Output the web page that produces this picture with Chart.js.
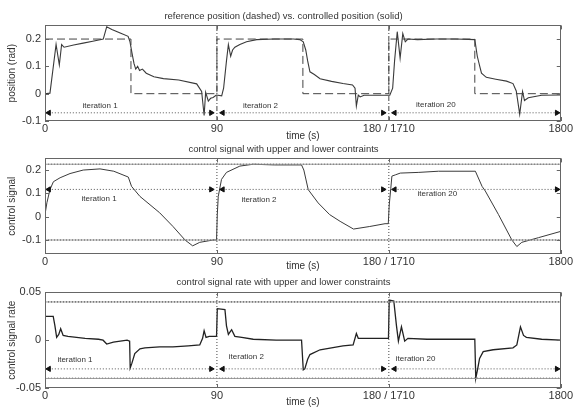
<!DOCTYPE html>
<html>
<head>
<meta charset="utf-8">
<script src="https://cdn.jsdelivr.net/npm/chart.js@4.4.1/dist/chart.umd.min.js"></script>
<style>
  html, body { margin: 0; padding: 0; background: #fff; }
  #wrap { position: relative; width: 574px; height: 408px; }
  #wrap canvas { position: absolute; left: 0; }
</style>
</head>
<body>
<div id="wrap">
  <canvas id="chart-pos" width="574" height="142" style="top:0"></canvas>
  <canvas id="chart-u" width="574" height="132" style="top:140px"></canvas>
  <canvas id="chart-du" width="574" height="136" style="top:272px"></canvas>
</div>
<script>
// time axis: three 90 s windows (iteration 1, 2, 20) laid side by side
const xTicks = [0, 90, 180, 270];
const xTickLabels = ['0', '90', '180 / 1710', '1800'];
const iterBounds = [90, 180];
const iterNames = ['iteration 1', 'iteration 2', 'iteration 20'];
const arrowStart = [2, 93, 183];
const arrowEnd = [87, 177, 268];

// position: reference (dashed, stepped) and controlled (solid)
const refT = [0, 45, 90, 135, 180, 225, 270];
const refY = [0.2, 0, 0.2, 0, 0.2, 0, 0];
const posT = [0, 2.6, 4, 5.8, 7.5, 8.7, 10, 15, 20, 25, 30.5, 32.3, 35, 40, 43.5, 44.5, 45.5, 46.6, 47.5, 48.5, 49.5, 51, 53, 57, 62, 70, 79.4, 82, 83.3, 84.1, 85.5, 86.7, 88, 89.7,
  92.5, 93.5, 95, 96, 97.2, 98.2, 99.4, 102, 105.5, 110.8, 120, 130, 133.4, 135.2, 136.5, 137.5, 138.7, 141, 144, 150, 156, 161, 162.3, 163, 164, 165, 167, 175,
  180.5, 182, 183, 184.4, 185.9, 187.3, 188.6, 190, 195, 205, 215, 225, 226.3, 227.6, 228.5, 231, 236, 241.6, 245, 246.7, 248.5, 250, 251, 253, 260, 270];
const posY = [0, 0.002, 0.08, 0.18, 0.105, 0.18, 0.17, 0.178, 0.185, 0.192, 0.2, 0.245, 0.235, 0.22, 0.21, 0.19, 0.15, 0.11, 0.09, 0.1, 0.085, 0.09, 0.075, 0.062, 0.055, 0.05, 0.036, 0.008, -0.08, 0.005, -0.027, -0.017, -0.014, -0.005,
  -0.008, 0.02, 0.12, 0.18, 0.137, 0.16, 0.17, 0.18, 0.19, 0.198, 0.2, 0.2, 0.198, 0.19, 0.16, 0.12, 0.08, 0.07, 0.055, 0.045, 0.037, 0.032, 0.02, -0.045, -0.005, -0.012, -0.006, -0.006,
  -0.006, 0.02, 0.12, 0.227, 0.13, 0.22, 0.19, 0.2, 0.198, 0.2, 0.2, 0.198, 0.137, 0.1, 0.075, 0.06, 0.053, 0.046, 0.037, 0.01, -0.075, 0.008, -0.025, -0.015, -0.006, -0.005];

// control signal
const uT = [0, 1, 2.6, 4.4, 7.9, 13.1, 20, 28.8, 36, 43.6, 45.3, 49.7, 60, 67, 73.3, 77.3, 81, 88, 89.8,
  90.2, 90.7, 92.4, 95, 102, 109, 120, 134.3, 135.5, 137.8, 143, 149, 154.5, 161.5, 170, 178, 179.7,
  180.2, 181, 181.6, 183.6, 186, 195.7, 206, 225.3, 228.8, 230.5, 237.4, 244.4, 247, 249.6, 258.3, 270];
const uY = [0.009, 0.06, 0.116, 0.15, 0.167, 0.185, 0.2, 0.205, 0.195, 0.17, 0.13, 0.087, 0.017, -0.042, -0.1, -0.125, -0.11, -0.1, -0.1,
  0.01, 0.087, 0.16, 0.19, 0.217, 0.225, 0.222, 0.222, 0.2, 0.116, 0.059, 0.009, -0.02, -0.053, -0.042, -0.03, -0.03,
  0.05, 0.12, 0.174, 0.18, 0.187, 0.19, 0.195, 0.195, 0.13, 0.11, 0.009, -0.1, -0.128, -0.11, -0.09, -0.063];

// control signal rate
const duT = [0, 4.3, 5.2, 6.1, 7.2, 8.2, 9.5, 12, 21, 28, 30.4, 32.3, 35.8, 43, 44.3, 44.6, 45.5, 47, 49.7, 52.3, 60, 67, 75, 81, 82.5, 83.3, 84.3, 86, 88, 89.8,
  90.2, 94.2, 95, 96, 97.7, 99.4, 103, 109, 121, 134.3, 135.2, 136, 137.5, 138.7, 144, 156, 161.3, 163, 164, 165, 172, 179.8,
  180.2, 182.6, 184, 185, 186.6, 188.3, 190, 200, 215, 225, 225.5, 226.5, 227.5, 229.4, 234.6, 245, 247, 248.9, 250.5, 252, 260, 270];
const duY = [0.025, 0.025, 0.015, 0.003, 0.006, 0.012, 0.005, 0.004, 0.002, 0.001, 0.0, -0.004, -0.002, 0.0, -0.001, -0.029, -0.024, -0.014, -0.009, -0.008, -0.007, -0.007, -0.006, -0.005, 0.002, 0.01, 0.003, 0.004, 0.004, 0.004,
  0.033, 0.032, 0.015, 0.006, 0.011, 0.004, 0.003, 0.001, 0.0, 0.0, -0.031, -0.03, -0.02, -0.015, -0.01, -0.006, -0.005, 0.007, 0.002, 0.002, 0.002, 0.002,
  0.042, 0.041, 0.015, -0.001, 0.014, -0.001, 0.002, 0.001, 0.001, 0.001, -0.04, -0.03, -0.019, -0.012, -0.01, -0.008, -0.005, 0.014, 0.005, 0.003, 0.001, 0.0];

// y ticks, constraints, arrows and iteration labels per panel
const posYTicks = [-0.1, 0, 0.1, 0.2];
const posYTickLabels = ['-0.1', '0', '0.1', '0.2'];
const uYTicks = [-0.1, 0, 0.1, 0.2];
const uYTickLabels = ['-0.1', '0', '0.1', '0.2'];
const uLimits = [0.225, -0.1];
const duYTicks = [-0.05, 0, 0.05];
const duYTickLabels = ['-0.05', '0', '0.05'];
const duLimits = [0.04, -0.04];
const posLabelT = [28.8, 112.8, 204.6];
const posLabelY = [-0.045, -0.043, -0.04];
const uLabelT = [28.3, 112, 205.4];
const uLabelY = [0.075, 0.073, 0.1];
const duLabelT = [15.7, 105.4, 194];
const duLabelY = [-0.02, -0.017, -0.019];

Chart.defaults.font.family = '"Liberation Sans", Arial, sans-serif';
Chart.defaults.color = '#333';
Chart.defaults.elements.point.radius = 0;
Chart.defaults.elements.line.tension = 0;

function pts(ts, ys) { return ts.map((t, i) => ({ x: t, y: ys[i] })); }
function hLine(v) { return [{ x: xTicks[0], y: v }, { x: xTicks[xTicks.length - 1], y: v }]; }

// box, inward tick marks and iteration names
const framePlugin = {
    id: 'frame',
    afterDatasetsDraw(chart, args, opts) {
        const { ctx, chartArea: a, scales: { x, y } } = chart;
        ctx.save();
        ctx.strokeStyle = '#666';
        ctx.lineWidth = 1;
        ctx.strokeRect(Math.round(a.left) + 0.5, Math.round(a.top) + 0.5, Math.round(a.width) - 1, Math.round(a.height) - 1);
        ctx.beginPath();
        xTicks.forEach(v => {
            const px = Math.round(x.getPixelForValue(v)) + 0.5;
            ctx.moveTo(px, a.bottom); ctx.lineTo(px, a.bottom - 4);
            ctx.moveTo(px, a.top); ctx.lineTo(px, a.top + 4);
        });
        opts.yTicks.forEach(v => {
            const py = Math.round(y.getPixelForValue(v)) + 0.5;
            ctx.moveTo(a.left, py); ctx.lineTo(a.left + 4, py);
            ctx.moveTo(a.right, py); ctx.lineTo(a.right - 4, py);
        });
        ctx.stroke();
        ctx.font = '8px "Liberation Sans", Arial, sans-serif';
        ctx.fillStyle = '#333';
        ctx.textAlign = 'center';
        ctx.textBaseline = 'middle';
        opts.labelT.forEach((t, i) => {
            ctx.fillText(iterNames[i], x.getPixelForValue(t), y.getPixelForValue(opts.labelY[i]));
        });
        ctx.restore();
    }
};

function makePanel(id, p) {
    const datasets = [];
    p.limits.forEach(v => {
        datasets.push({ data: hLine(v), borderColor: '#999', borderWidth: 1 });
        datasets.push({ data: hLine(v), borderColor: '#222', borderWidth: 1.2, borderDash: [1, 2] });
    });
    iterBounds.forEach(b => datasets.push({
        data: [{ x: b, y: p.yMin }, { x: b, y: p.yMax }],
        borderColor: '#444', borderWidth: 1, borderDash: p.sepDash
    }));
    arrowStart.forEach((s, i) => datasets.push({
        data: [{ x: s, y: p.arrowY }, { x: arrowEnd[i], y: p.arrowY }],
        borderColor: '#555', borderWidth: 1, borderDash: [1, 2],
        pointRadius: 3, pointStyle: 'triangle', pointRotation: [-90, 90],
        pointBackgroundColor: '#111', pointBorderColor: '#111', pointBorderWidth: 1
    }));
    p.series.forEach(s => datasets.push(Object.assign({ borderColor: '#3a3a3a', borderWidth: 1 }, s)));

    return new Chart(document.getElementById(id).getContext('2d'), {
        type: 'line',
        data: { datasets: datasets },
        plugins: [framePlugin],
        options: {
            responsive: false,
            animation: false,
            events: [],
            layout: { padding: { left: 6, right: 13, top: 0, bottom: 0 } },
            plugins: {
                legend: { display: false },
                tooltip: { enabled: false },
                title: { display: true, text: p.title, color: '#333', font: { size: 9.5, weight: 'normal' }, padding: p.titlePad },
                frame: { yTicks: p.yTicks, labelT: p.labelT, labelY: p.labelY }
            },
            scales: {
                x: {
                    type: 'linear', min: 0, max: 270,
                    afterBuildTicks: s => { s.ticks = xTicks.map(v => ({ value: v })); },
                    afterFit: s => { s.height = p.xH; },
                    grid: { display: false, drawTicks: false, tickLength: 0 },
                    border: { display: false },
                    ticks: { autoSkip: false, maxRotation: 0, padding: 1, font: { size: 11 }, callback: v => xTickLabels[xTicks.indexOf(v)] },
                    title: { display: true, text: 'time (s)', padding: 0, font: { size: 10 } }
                },
                y: {
                    type: 'linear', min: p.yMin, max: p.yMax,
                    afterBuildTicks: s => { s.ticks = p.yTicks.map(v => ({ value: v })); },
                    afterFit: s => { s.width = 39; },
                    grid: { display: false, drawTicks: false, tickLength: 0 },
                    border: { display: false },
                    ticks: { padding: 4, font: { size: 11 }, callback: v => p.yTickLabels[p.yTicks.indexOf(v)] },
                    title: { display: true, text: p.yTitle, padding: 0, font: { size: 10 } }
                }
            }
        }
    });
}

// Position chart
makePanel('chart-pos', {
    title: 'reference position (dashed) vs. controlled position (solid)',
    titlePad: { top: 11, bottom: 3 }, xH: 21,
    yTitle: 'position (rad)', yMin: -0.1, yMax: 0.25,
    yTicks: posYTicks, yTickLabels: posYTickLabels,
    limits: [], sepDash: [5, 2, 1, 2], arrowY: -0.07,
    labelT: posLabelT, labelY: posLabelY,
    series: [
        { data: pts(refT, refY), stepped: 'before', borderDash: [8, 4], borderColor: '#444' },
        { data: pts(posT, posY), borderWidth: 1.1 }
    ]
});

// Control signal chart
makePanel('chart-u', {
    title: 'control signal with upper and lower contraints',
    titlePad: { top: 4, bottom: 3 }, xH: 18,
    yTitle: 'control signal', yMin: -0.16, yMax: 0.25,
    yTicks: uYTicks, yTickLabels: uYTickLabels,
    limits: uLimits, sepDash: [1, 2], arrowY: 0.117,
    labelT: uLabelT, labelY: uLabelY,
    series: [{ data: pts(uT, uY), borderWidth: 1 }]
});

// Control signal rate chart
makePanel('chart-du', {
    title: 'control signal rate with upper and lower constraints',
    titlePad: { top: 5, bottom: 4 }, xH: 20,
    yTitle: 'control signal rate', yMin: -0.05, yMax: 0.05,
    yTicks: duYTicks, yTickLabels: duYTickLabels,
    limits: duLimits, sepDash: [1, 2], arrowY: -0.03,
    labelT: duLabelT, labelY: duLabelY,
    series: [{ data: pts(duT, duY), borderWidth: 1.3, borderColor: '#222' }]
});
</script>
</body>
</html>
